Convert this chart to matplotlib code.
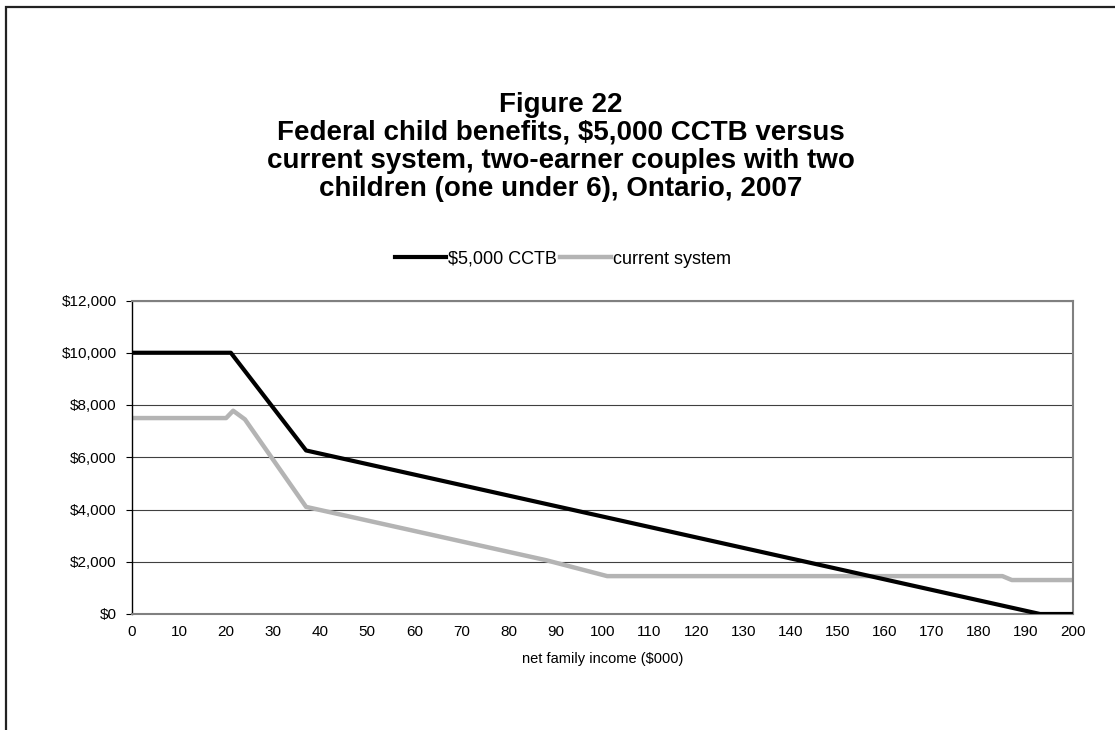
import matplotlib
matplotlib.use("Agg")
import matplotlib.pyplot as plt
from matplotlib.patches import Rectangle

plt.rcParams['font.family'] = ['Liberation Sans', 'DejaVu Sans']

# net family income ($000) and benefit values
cctb_income = [0, 21, 37, 193, 200]
cctb_benefit = [10000, 10000, 6260, 0, 0]

current_income = [0, 20, 21.5, 24, 37, 88, 101, 185, 187, 200]
current_benefit = [7500, 7500, 7780, 7450, 4100, 2060, 1450, 1450, 1300, 1300]

x_ticks = list(range(0, 201, 10))
y_ticks = list(range(0, 12001, 2000))

title = ("Figure 22\nFederal child benefits, $5,000 CCTB versus\n"
         "current system, two-earner couples with two\n"
         "children (one under 6), Ontario, 2007")

fig = plt.figure(figsize=(11.15, 7.3), dpi=100, facecolor='white')
ax = fig.add_axes([132 / 1115, 1 - 614 / 730, 941 / 1115, 313.5 / 730])

ax.plot(cctb_income, cctb_benefit, color='black', linewidth=3.0,
        solid_joinstyle='round', label='$5,000 CCTB', zorder=3)
ax.plot(current_income, current_benefit, color='#b4b4b4', linewidth=3.2,
        solid_joinstyle='round', label='current system', zorder=2)

ax.set_xlim(0, 200)
ax.set_ylim(0, 12000)
ax.set_xticks(x_ticks)
ax.set_yticks(y_ticks)
ax.set_yticklabels(['${:,}'.format(v) for v in y_ticks])
ax.grid(axis='y', color='#404040', linewidth=0.8)
ax.set_axisbelow(True)
ax.tick_params(axis='x', length=0, pad=8, labelsize=11)
ax.tick_params(axis='y', length=4, width=0.8, pad=7, labelsize=11,
               direction='out')
for side in ['top', 'right', 'bottom']:
    ax.spines[side].set_color('#808080')
    ax.spines[side].set_linewidth(1.5)
ax.spines['left'].set_color('black')
ax.spines['left'].set_linewidth(1.0)
ax.set_xlabel('net family income ($000)', fontsize=10.5, labelpad=9)

fig.text(561 / 1115, 1 - 147 / 730, title, ha='center', va='center',
         fontsize=20, fontweight='bold', linespacing=1.1)

fig.legend(loc='center', bbox_to_anchor=(563 / 1115, 1 - 259 / 730),
           ncol=2, frameon=False, fontsize=13, handlelength=2.8,
           handletextpad=0.1, columnspacing=0.2)

# outer chart border
fig.patches.append(Rectangle((6 / 1115, -0.2), 1.5, 1.2 - 7 / 730,
                             transform=fig.transFigure, fill=False,
                             edgecolor='#222222', linewidth=1.6))

fig.savefig('out.png', dpi=100, facecolor='white')
